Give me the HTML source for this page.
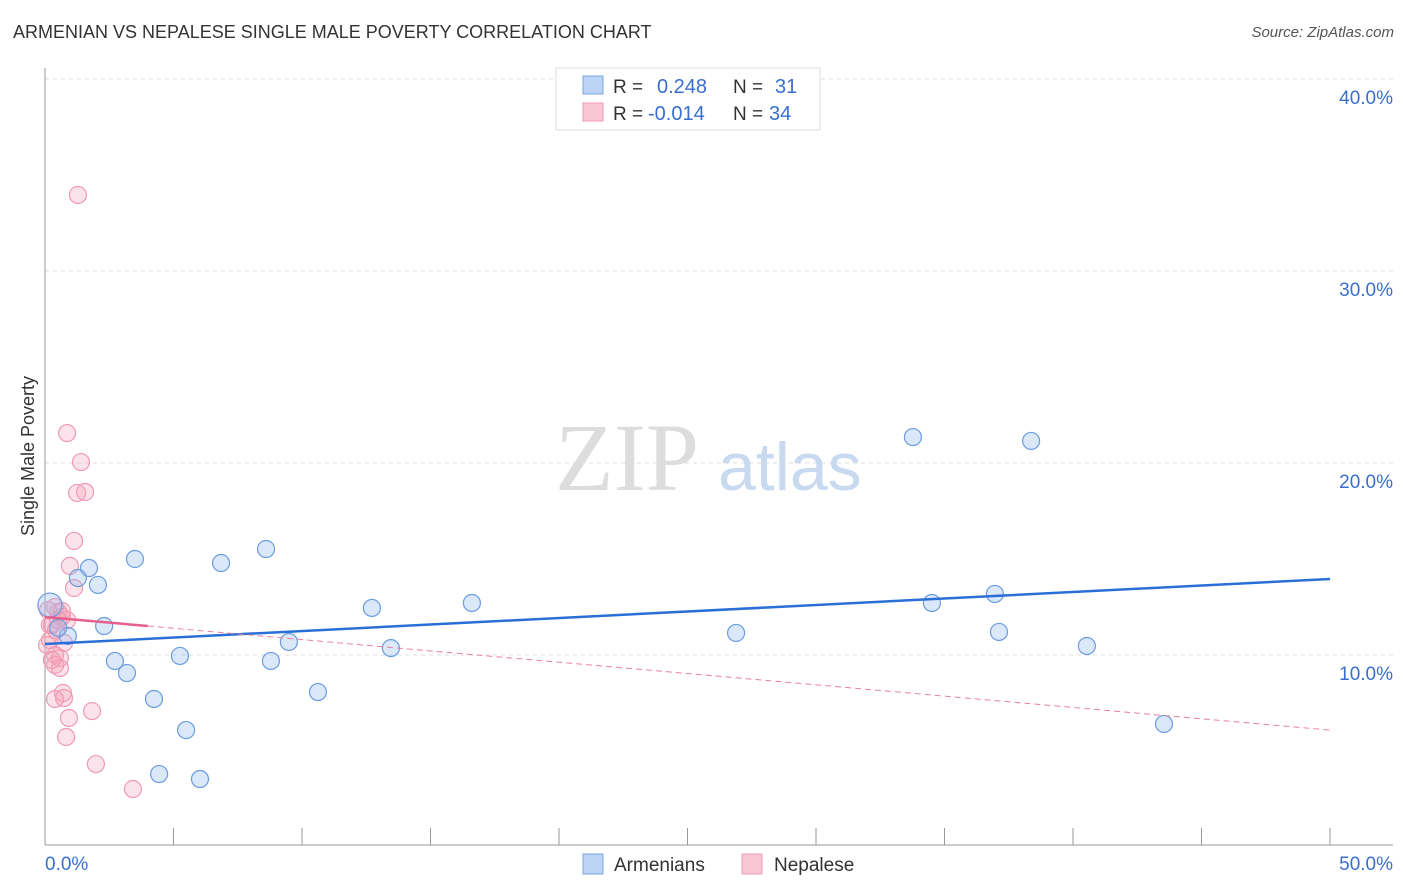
<!DOCTYPE html>
<html><head><meta charset="utf-8"><style>
body{margin:0;background:#fff;font-family:"Liberation Sans",sans-serif;}
.t{position:absolute;}
</style></head><body>
<div style="position:relative;width:1406px;height:892px;overflow:hidden">
<div class="t" style="left:13px;top:22px;font-size:18px;color:#333">ARMENIAN VS NEPALESE SINGLE MALE POVERTY CORRELATION CHART</div>
<div class="t" style="right:12px;top:24px;font-size:15px;color:#555;font-style:italic">Source: ZipAtlas.com</div>
<svg id="s" width="1406" height="892" style="position:absolute;left:0;top:0"></svg>
</div>
<script>
const blueX=[3.50,8.60,6.85,1.71,1.28,2.06,2.30,0.89,0.51,0.19,2.72,3.19,5.25,8.79,9.49,4.24,5.49,4.44,6.03,10.62,12.72,13.46,16.61,26.89,33.77,38.37,34.51,36.96,37.12,40.54,43.54];
const blueY=[15.0,15.52,14.79,14.53,14.01,13.65,11.51,10.99,11.41,12.60,9.69,9.06,9.95,9.69,10.68,7.71,6.09,3.80,3.54,8.07,12.45,10.36,12.71,11.15,21.35,21.15,12.71,13.18,11.20,10.47,6.41];
const pinkX=[1.28,0.86,1.40,1.25,1.56,1.13,0.97,1.13,0.39,0.51,0.66,0.86,0.27,0.19,0.74,0.39,0.58,0.39,0.58,0.39,0.70,0.74,0.93,1.83,0.82,1.98,3.42,0.12,0.19,0.43,0.08,0.27,0.66,0.51];
const pinkY=[33.96,21.56,20.05,18.44,18.49,15.94,14.64,13.49,12.50,12.24,11.98,11.82,11.56,10.78,10.63,10.0,9.84,9.48,9.32,7.71,8.02,7.76,6.72,7.08,5.73,4.32,3.02,12.34,11.56,11.30,10.52,9.74,12.29,11.82];
const yTicks=[10,20,30,40];
const yTickLabels=["10.0%","20.0%","30.0%","40.0%"];
const blueTrend=[10.57,13.96];
const pinkTrend=[11.98,6.09];
const X=v=>45+v*25.7, Y=v=>847-v*19.2;
const s=document.getElementById('s');const NS='http://www.w3.org/2000/svg';
function el(t,a,n){const e=document.createElementNS(NS,t);for(const k in a)e.setAttribute(k,a[k]);s.appendChild(e);return e;}
yTicks.forEach((v,i)=>{el('line',{x1:45,x2:1393,y1:Y(v),y2:Y(v),stroke:'#ddd','stroke-dasharray':'4 4'},'gridline');
const t=el('text',{x:1393,y:Y(v)+25,'text-anchor':'end','font-size':19,fill:'#3a6fd0'},'y-tick-label');t.textContent=yTickLabels[i];});
el('line',{x1:45,x2:45,y1:68,y2:845,stroke:'#999'},'y-axis');
el('line',{x1:45,x2:1393,y1:845,y2:845,stroke:'#999'},'x-axis');
for(let i=1;i<=10;i++)el('line',{x1:X(i*5),x2:X(i*5),y1:828,y2:845,stroke:'#999'},'x-tick');
let t=el('text',{x:45,y:870,'font-size':19,fill:'#3a6fd0'},'x-tick-label');t.textContent='0.0%';
t=el('text',{x:1393,y:870,'text-anchor':'end','font-size':19,fill:'#3a6fd0'},'x-tick-label');t.textContent='50.0%';
t=el('text',{x:0,y:0,'font-size':18,fill:'#333',transform:'translate(34,456) rotate(-90)','text-anchor':'middle'},'y-axis-title');t.textContent='Single Male Poverty';
t=el('text',{x:555,y:490,'font-size':96,fill:'#ddd','font-family':'Liberation Serif'},'watermark-zip');t.textContent='ZIP';
t=el('text',{x:718,y:490,'font-size':68,fill:'#c9d9f0'},'watermark-atlas');t.textContent='atlas';
pinkX.forEach((v,i)=>el('circle',{cx:X(v),cy:Y(pinkY[i]),r:8.5,fill:'rgba(244,160,185,0.3)',stroke:'#f09ab3','stroke-width':1.2},'nepalese-point'));
blueX.forEach((v,i)=>el('circle',{cx:X(v),cy:Y(blueY[i]),r:i==9?12:8.5,fill:'rgba(150,190,240,0.35)',stroke:'#6a9ce0','stroke-width':1.2},'armenian-point'));
el('line',{x1:X(0),x2:X(50),y1:Y(blueTrend[0]),y2:Y(blueTrend[1]),stroke:'#2a6fd6','stroke-width':2.5},'armenian-trend');
const py=x=>pinkTrend[0]+(pinkTrend[1]-pinkTrend[0])*x/50;
el('line',{x1:X(0),x2:X(4),y1:Y(py(0)),y2:Y(py(4)),stroke:'#e5608b','stroke-width':2.5},'nepalese-trend-solid');
el('line',{x1:X(4),x2:X(50),y1:Y(py(4)),y2:Y(py(50)),stroke:'#e8819f','stroke-width':1,'stroke-dasharray':'6 4'},'nepalese-trend-dashed');
el('rect',{x:556,y:68,width:264,height:62,fill:'#fff',stroke:'#ddd'},'legend-box');
el('rect',{x:583,y:76,width:20,height:18,fill:'#bcd4f5',stroke:'#7aa4e0'},'legend-swatch-armenians');
el('rect',{x:583,y:103,width:20,height:18,fill:'#f9c6d5',stroke:'#ee9ab3'},'legend-swatch-nepalese');
function tx(x,y,str,c,n,fs){const e=el('text',{x:x,y:y,'font-size':fs||19,fill:c},n);e.textContent=str;}
tx(613,93,'R =','#333','legend-r-label');tx(657,93,'0.248','#3a6fd0','legend-r-armenians',20);
tx(733,93,'N =','#333','legend-n-label');tx(775,93,'31','#3a6fd0','legend-n-armenians',20);
tx(613,120,'R =','#333','legend-r-label');tx(648,120,'-0.014','#3a6fd0','legend-r-nepalese',20);
tx(733,120,'N =','#333','legend-n-label');tx(769,120,'34','#3a6fd0','legend-n-nepalese',20);
el('rect',{x:583,y:854,width:20,height:20,fill:'#bcd4f5',stroke:'#7aa4e0'},'bottom-legend-swatch-armenians');
tx(614,871,'Armenians','#333','bottom-legend-armenians');
el('rect',{x:742,y:854,width:20,height:20,fill:'#f9c6d5',stroke:'#ee9ab3'},'bottom-legend-swatch-nepalese');
tx(774,871,'Nepalese','#333','bottom-legend-nepalese');
</script></body></html>
